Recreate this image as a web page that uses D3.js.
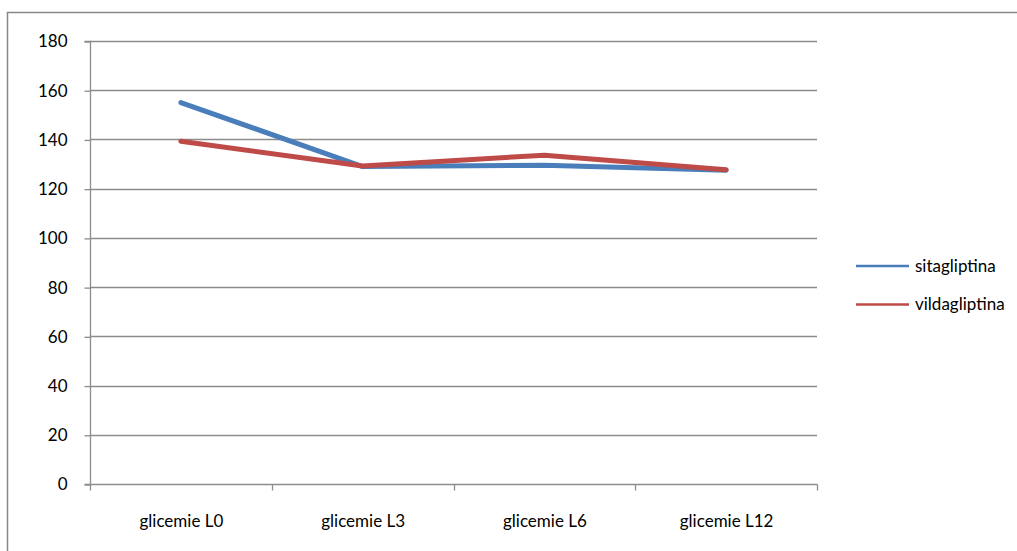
<!DOCTYPE html>
<html><head><meta charset="utf-8">
<script src="https://cdn.jsdelivr.net/npm/d3@7"></script>
<style>body{margin:0;background:#fff}svg{display:block}text{font-family:Lato,"Open Sans",sans-serif;font-size:17px;fill:#000}</style>
</head><body><svg id="c" width="1017" height="551"></svg>
<script>
const categories = ["glicemie L0","glicemie L3","glicemie L6","glicemie L12"];
const sitagliptina = [155, 129, 129.5, 127.5];
const vildagliptina = [139.3, 129.2, 133.6, 127.7];
const seriesNames = ["sitagliptina","vildagliptina"];
const yTicks = [0,20,40,60,80,100,120,140,160,180];

const FONT = "Lato,'Open Sans',sans-serif", FS = "17px";
const svg = d3.select("#c");
svg.append("rect").attr("x",7.5).attr("y",12.5).attr("width",1100).attr("height",700)
  .attr("fill","none").attr("stroke","#888").attr("stroke-width",1.5);

const L=90, R=817, T=41, B=484;
const x = d3.scaleBand().domain(categories).range([L,R]);
const y = d3.scaleLinear().domain([0,180]).range([B,T]);
const colors = {sitagliptina:"#4a7ebb", vildagliptina:"#be4b48"};

svg.append("g").selectAll("line").data(yTicks.slice(1)).join("line")
  .attr("x1",L).attr("x2",R).attr("y1",d=>Math.round(y(d))+0.5).attr("y2",d=>Math.round(y(d))+0.5)
  .attr("stroke","#8c8c8c").attr("stroke-width",1.3);

const yAxis = svg.append("g").attr("transform",`translate(${L+0.5},0.5)`)
  .call(d3.axisLeft(y).tickValues(yTicks).tickSize(6).tickPadding(17).tickFormat(d3.format("d")));
yAxis.select(".domain").attr("stroke","#8c8c8c").attr("stroke-width",1.3).attr("d",`M-6,${B}H0V${T}H-6`);
yAxis.selectAll(".tick line").attr("stroke","#8c8c8c").attr("stroke-width",1.3);
yAxis.selectAll("text").style("font-family",FONT).style("font-size",FS).attr("fill","#000");

const xAxis = svg.append("g").attr("transform",`translate(0.5,${Math.round(B)+0.5})`)
  .call(d3.axisBottom(x).tickSize(0).tickPadding(30));
xAxis.select(".domain").attr("stroke","#8c8c8c").attr("stroke-width",1.3).attr("d",`M${L},0H${R}`);
xAxis.selectAll("text").style("font-family",FONT).style("font-size",FS).attr("fill","#000");
const bounds = categories.map(c=>x(c)).concat([R]);
xAxis.append("g").selectAll("line").data(bounds).join("line")
  .attr("x1",d=>Math.round(d)).attr("x2",d=>Math.round(d)).attr("y1",0).attr("y2",6)
  .attr("stroke","#8c8c8c").attr("stroke-width",1.3);

const line = d3.line().x((d,i)=>x(categories[i])+x.bandwidth()/2).y(d=>y(d));
const data = {sitagliptina, vildagliptina};
seriesNames.forEach(n=>{
  svg.append("path").attr("d",line(data[n])).attr("fill","none")
    .attr("stroke",colors[n]).attr("stroke-width",5).attr("stroke-linecap","round").attr("stroke-linejoin","round");
});

const lg = svg.append("g");
seriesNames.forEach((n,i)=>{
  const yy = 266 + i*38.5;
  lg.append("line").attr("x1",856).attr("x2",909).attr("y1",yy).attr("y2",yy)
    .attr("stroke",colors[n]).attr("stroke-width",2.5);
  lg.append("text").attr("x",915).attr("y",yy).attr("dy","0.35em").style("font-size",FS).text(n);
});
</script></body></html>
